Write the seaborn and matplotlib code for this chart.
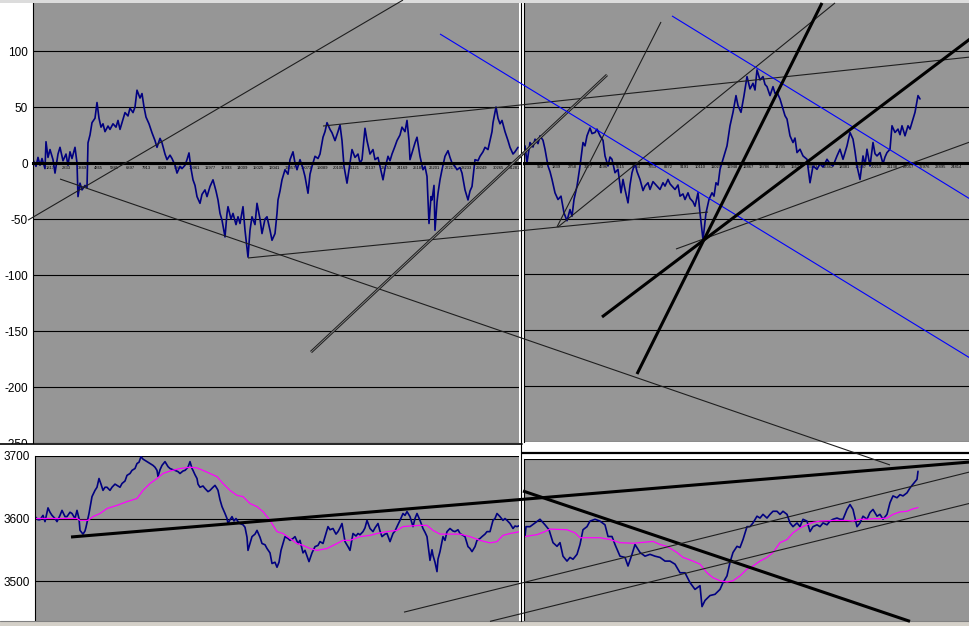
import matplotlib
matplotlib.use("Agg")
import matplotlib.pyplot as plt
from matplotlib.lines import Line2D
from matplotlib.patches import Rectangle
import numpy as np
import seaborn as sns

W, H = 970, 626
GRAY = "#969696"
NAVY = "#000080"
MAGENTA = "#ff00ff"

# ---- upper chart (oscillator), (session, value) ----
upper_left = [
    (0, 3), (3, -3), (5, 5), (7, -2), (9, 4), (12, -5), (13, 19), (15, 5), (17, 12), (20, 3),
    (22, -9), (25, 8), (27, 14), (30, 2), (33, 8), (35, -2), (37, 10), (39, 4), (42, 14), (44, 0),
    (45, -30), (47, -18), (49, -24), (52, -20), (54, -22), (55, 18), (57, 25), (59, 36), (62, 40),
    (64, 54), (66, 40), (68, 32), (70, 35), (72, 28), (75, 33), (77, 30), (80, 35), (83, 32),
    (85, 38), (87, 30), (89, 36), (92, 45), (95, 42), (97, 49), (100, 45), (102, 50), (104, 65),
    (107, 58), (109, 62), (111, 50), (113, 41), (116, 35), (119, 27), (122, 20), (124, 14),
    (127, 22), (129, 18), (132, 8), (134, 3), (137, 7), (139, 4), (142, -2), (144, -9), (147, -3),
    (149, -5), (152, -2), (154, 3), (156, 9), (158, -5), (160, -15), (162, -20), (164, -30),
    (167, -36), (169, -28), (172, -24), (174, -30), (177, -21), (180, -15), (183, -25), (185, -33),
    (187, -45), (189, -51), (192, -66), (194, -45), (195, -39), (198, -50), (200, -45), (203, -55),
    (205, -48), (207, -54), (210, -39), (212, -60), (215, -84), (217, -60), (219, -48), (222, -55),
    (224, -36), (227, -50), (229, -63), (232, -50), (234, -48), (237, -60), (239, -69), (242, -63),
    (244, -45), (245, -33), (247, -25), (249, -15), (252, -6), (255, -10), (257, 3), (260, 10),
    (262, 0), (264, -6), (267, 3), (270, -5), (272, -12), (275, -27), (277, -10), (279, -3),
    (282, 6), (285, 4), (287, 8), (290, 23), (292, 28), (294, 36), (297, 30), (299, 27), (302, 20),
    (305, 28), (307, 34), (309, 20), (311, -3), (314, -18), (317, 0), (319, 12), (322, 5), (325, 8),
    (327, 0), (329, 3), (332, 31), (334, 20), (337, 8), (340, 12), (342, 3), (345, 5), (347, -3),
    (350, -15), (352, -5), (355, 6), (357, 2), (359, 8), (362, 15), (364, 20), (367, 25), (369, 32),
    (372, 28), (374, 38), (376, 20), (377, 3), (380, 12), (382, 18), (384, 23), (387, 6), (390, -6),
    (392, -3), (394, -12), (396, -54), (398, -30), (399, -33), (401, -20), (402, -60), (404, -35),
    (405, -27), (407, -15), (409, -6), (412, 6), (415, 11), (417, 5), (419, 0), (422, -3), (424, -6),
    (427, -4), (429, -9), (432, -24), (435, -33), (437, -25), (439, -21), (441, -5), (442, 3),
    (445, 2), (447, 6), (450, 10), (452, 14), (455, 12), (457, 20), (459, 28), (460, 36), (463, 50),
    (465, 40), (467, 35), (469, 38), (472, 28), (475, 20), (477, 14), (480, 8), (482, 10), (485, 14),
]
upper_right = [
    (1, 15), (3, 0), (5, 12), (6, 18), (9, 14), (11, 21), (14, 17), (16, 24), (19, 20), (21, 12),
    (24, -3), (26, -8), (28, -15), (31, -27), (34, -33), (37, -30), (40, -45), (43, -52), (46, -42),
    (48, -48), (50, -33), (53, -21), (56, -3), (59, 18), (61, 15), (63, 24), (66, 31), (68, 26),
    (71, 27), (73, 30), (76, 24), (79, 20), (81, 6), (84, -3), (86, 5), (88, 3), (91, -9), (94, -6),
    (97, -27), (99, -15), (101, -24), (104, -36), (106, -20), (108, -9), (111, 0), (113, -8),
    (116, -15), (119, -25), (121, -21), (124, -18), (126, -24), (129, -17), (131, -19), (134, -22),
    (136, -24), (139, -18), (141, -21), (144, -15), (146, -19), (149, -22), (151, -24), (154, -20),
    (156, -30), (159, -28), (161, -33), (164, -27), (166, -32), (169, -35), (171, -39), (174, -27),
    (176, -45), (179, -69), (182, -45), (185, -33), (188, -27), (190, -30), (192, -18), (194, -20),
    (196, -6), (200, 6), (203, 15), (206, 33), (209, 45), (212, 60), (214, 51), (217, 45), (220, 60),
    (223, 77), (226, 66), (229, 71), (231, 65), (233, 83), (236, 74), (239, 77), (241, 70), (243, 68),
    (246, 60), (249, 68), (251, 62), (253, 63), (256, 57), (259, 48), (261, 42), (263, 39), (266, 24),
    (269, 18), (271, 22), (273, 9), (276, 12), (279, 6), (283, 3), (286, -18), (289, -3), (293, -6),
    (296, -1), (299, -4), (303, 3), (306, -1), (309, -3), (313, 6), (316, 12), (319, 3), (323, 15),
    (326, 27), (329, 21), (331, 10), (333, -3), (336, -15), (339, 6), (341, -2), (343, 12), (346, -3),
    (349, 18), (351, 8), (353, 6), (356, 9), (359, -1), (361, 5), (363, 9), (366, 12), (368, 33),
    (371, 27), (374, 30), (376, 25), (378, 33), (381, 24), (384, 33), (386, 30), (388, 36), (391, 45),
    (394, 60), (396, 57),
]

# ---- lower chart (price + moving average), (session, price) ----
lower_left = [
    (0, 3603), (3, 3598), (5, 3598), (8, 3605), (10, 3595), (13, 3617), (15, 3610), (17, 3605),
    (20, 3600), (22, 3595), (25, 3605), (27, 3613), (30, 3603), (32, 3603), (35, 3610), (37, 3608),
    (40, 3600), (42, 3613), (44, 3600), (45, 3581), (48, 3575), (50, 3580), (51, 3586), (54, 3608),
    (57, 3635), (60, 3645), (62, 3650), (64, 3664), (66, 3655), (68, 3645), (70, 3650), (72, 3650),
    (75, 3645), (77, 3650), (80, 3655), (82, 3653), (85, 3650), (87, 3656), (90, 3660), (92, 3669),
    (95, 3672), (97, 3677), (100, 3680), (102, 3688), (104, 3690), (106, 3699), (108, 3695),
    (110, 3693), (113, 3690), (115, 3688), (118, 3685), (120, 3682), (122, 3677), (123, 3667),
    (125, 3678), (127, 3685), (130, 3691), (133, 3683), (135, 3680), (138, 3678), (140, 3677),
    (143, 3675), (145, 3672), (148, 3676), (150, 3677), (153, 3682), (155, 3691), (157, 3680),
    (158, 3677), (160, 3670), (162, 3664), (163, 3655), (165, 3650), (168, 3652), (170, 3648),
    (173, 3643), (175, 3645), (178, 3650), (180, 3653), (182, 3648), (183, 3645), (185, 3630),
    (187, 3619), (190, 3608), (192, 3600), (193, 3592), (195, 3598), (197, 3603), (199, 3596),
    (201, 3600), (203, 3595), (205, 3592), (208, 3590), (210, 3586), (212, 3570), (213, 3549),
    (215, 3560), (217, 3571), (220, 3575), (222, 3581), (225, 3570), (227, 3560), (230, 3558),
    (232, 3552), (235, 3545), (237, 3528), (240, 3530), (242, 3522), (244, 3530), (246, 3549),
    (248, 3560), (250, 3571), (253, 3568), (255, 3565), (258, 3568), (260, 3571), (263, 3560),
    (265, 3565), (268, 3545), (270, 3549), (272, 3540), (274, 3531), (277, 3545), (280, 3555),
    (283, 3557), (285, 3563), (288, 3560), (290, 3571), (293, 3587), (295, 3582), (298, 3584),
    (301, 3575), (303, 3579), (305, 3585), (307, 3592), (310, 3563), (313, 3555), (315, 3549),
    (318, 3576), (321, 3572), (323, 3576), (325, 3574), (328, 3579), (330, 3585), (332, 3597),
    (335, 3584), (338, 3579), (340, 3585), (343, 3592), (345, 3580), (347, 3571), (350, 3575),
    (352, 3576), (355, 3563), (358, 3576), (360, 3580), (362, 3587), (365, 3597), (368, 3608),
    (370, 3605), (372, 3611), (375, 3603), (378, 3587), (380, 3600), (382, 3608), (385, 3597),
    (388, 3584), (390, 3578), (392, 3571), (395, 3533), (397, 3550), (398, 3541), (400, 3530),
    (402, 3515), (403, 3535), (405, 3547), (408, 3571), (410, 3565), (412, 3579), (415, 3584),
    (418, 3580), (420, 3579), (423, 3582), (425, 3576), (428, 3573), (430, 3571), (433, 3555),
    (435, 3552), (437, 3547), (440, 3555), (442, 3565), (445, 3568), (447, 3571), (450, 3575),
    (452, 3579), (455, 3579), (458, 3597), (460, 3600), (462, 3608), (465, 3603), (468, 3597),
    (470, 3600), (472, 3597), (475, 3592), (478, 3584), (480, 3588), (482, 3587), (485, 3589),
]
ma_left_session = [0, 15, 30, 42, 45, 53, 58, 65, 72, 82, 92, 102, 108, 115, 122, 128, 135, 145,
                   155, 162, 168, 175, 182, 188, 195, 202, 208, 215, 222, 228, 235, 242, 248, 255,
                   262, 268, 275, 282, 292, 302, 308, 315, 325, 335, 342, 352, 362, 368, 375, 385,
                   392, 398, 405, 415, 425, 435, 445, 455, 462, 468, 475, 485]
ma_left_value = [3600, 3600, 3600, 3600, 3597, 3597, 3603, 3608, 3616, 3621, 3627, 3632, 3645,
                 3656, 3664, 3672, 3676, 3680, 3682, 3681, 3677, 3672, 3667, 3656, 3645, 3637,
                 3635, 3624, 3619, 3611, 3597, 3579, 3576, 3568, 3560, 3557, 3552, 3549, 3552,
                 3560, 3565, 3565, 3571, 3573, 3576, 3579, 3581, 3587, 3588, 3589, 3589, 3581,
                 3575, 3575, 3575, 3571, 3565, 3561, 3563, 3573, 3576, 3579]
lower_right = [
    (1, 3574), (2, 3590), (6, 3590), (11, 3596), (16, 3602), (21, 3593), (25, 3585), (29, 3564),
    (33, 3558), (36, 3564), (39, 3542), (43, 3534), (46, 3540), (49, 3537), (53, 3545), (56, 3561),
    (59, 3585), (63, 3590), (66, 3599), (71, 3602), (76, 3599), (81, 3593), (84, 3574), (88, 3574),
    (91, 3561), (96, 3542), (101, 3540), (104, 3526), (108, 3545), (111, 3561), (116, 3548),
    (121, 3542), (126, 3545), (131, 3542), (136, 3540), (141, 3534), (146, 3534), (151, 3529),
    (156, 3515), (161, 3515), (166, 3499), (171, 3488), (176, 3494), (178, 3460), (181, 3470),
    (186, 3478), (191, 3480), (196, 3488), (199, 3499), (203, 3510), (206, 3532), (209, 3548),
    (213, 3558), (216, 3556), (219, 3569), (223, 3590), (226, 3590), (229, 3596), (233, 3607),
    (236, 3604), (239, 3610), (243, 3604), (246, 3610), (249, 3615), (253, 3615), (256, 3610),
    (259, 3615), (263, 3610), (266, 3596), (269, 3590), (273, 3596), (276, 3590), (279, 3602),
    (283, 3599), (286, 3582), (289, 3590), (293, 3593), (296, 3590), (299, 3596), (303, 3593),
    (306, 3599), (309, 3602), (313, 3604), (316, 3602), (319, 3602), (323, 3618), (326, 3626),
    (329, 3618), (333, 3590), (336, 3596), (339, 3607), (343, 3602), (346, 3613), (349, 3618),
    (353, 3607), (356, 3610), (359, 3602), (363, 3610), (366, 3629), (369, 3640), (373, 3637),
    (376, 3642), (379, 3640), (383, 3645), (386, 3653), (389, 3659), (393, 3667), (394, 3680),
]
ma_right_session = [1, 13, 21, 26, 43, 51, 56, 63, 76, 86, 96, 109, 116, 129, 136, 143, 153, 159,
                    169, 176, 183, 189, 196, 203, 209, 216, 223, 229, 236, 243, 249, 256, 263, 269,
                    276, 283, 289, 296, 309, 323, 329, 336, 343, 349, 356, 363, 369, 376, 383, 389, 394]
ma_right_value = [3574, 3577, 3582, 3586, 3585, 3580, 3572, 3572, 3572, 3569, 3564, 3563, 3564,
                  3566, 3561, 3558, 3548, 3540, 3534, 3529, 3515, 3507, 3502, 3500, 3502, 3510,
                  3521, 3526, 3534, 3540, 3548, 3564, 3569, 3580, 3588, 3593, 3597, 3599, 3600,
                  3600, 3599, 3602, 3602, 3603, 3603, 3604, 3610, 3614, 3615, 3619, 3621]

# ---- hand-drawn trend lines (s0, v0, s1, v1) ----
upper_thin_lines = [(-5, -51, 370, 145.5), (27, -14.3, 857, -269.6), (215, -84.8, 675, -43.8),
                    (290, 33.0, 937, 94.6), (524, -57.1, 628, 125.9), (525, -57.1, 802, 142.9),
                    (643, -76.8, 937, 18.8)]
upper_double_lines = [(278, -168.8, 574, 78.6)]
upper_blue_lines = [(407, 115.2, 937, -174.1), (639, 131.3, 937, -32.1)]
upper_thick_lines = [(604, -188.4, 789, 142.9), (569, -137.5, 937, 110.7)]
lower_left_thick_lines = [(36, 3570.4, 935, 3690.4)]
lower_right_thick_lines = [(-1, 3648, 386, 3436)]
lower_right_thin_lines = [(-120, 3451, 446, 3679), (-34, 3436, 446, 3628)]

upper_ticks = [100, 50, 0, -50, -100, -150, -200, -250]
lower_ticks = [3700, 3600, 3500]
left_xlabels = [str(v) for v in range(1817, 1817 + 30 * 1016, 1016)]
right_xlabels = [str(v) for v in range(1, 1 + 28 * 919, 919)]

sns.set_style("white")
plt.rcParams["font.family"] = ["Liberation Sans", "DejaVu Sans"]
plt.rcParams["axes.unicode_minus"] = False

fig = plt.figure(figsize=(W / 100, H / 100), dpi=100)
fig.patch.set_facecolor("white")


def px_rect(x0, y0, x1, y1):
    return [x0 / W, 1 - y1 / H, (x1 - x0) / W, (y1 - y0) / H]


def make_pane(rect, xlim, ylim, yticks, show_labels):
    ax = fig.add_axes(px_rect(*rect))
    ax.set_facecolor(GRAY)
    ax.set_xlim(*xlim)
    ax.set_ylim(*ylim)
    for side in ["top", "right", "bottom"]:
        ax.spines[side].set_visible(False)
    ax.spines["left"].set_color("black")
    ax.spines["left"].set_linewidth(0.8)
    ax.set_yticks(yticks)
    ax.set_yticklabels([str(t) for t in yticks] if show_labels else [])
    ax.tick_params(axis="y", direction="out", length=2.2 if show_labels else 0, width=0.8,
                   pad=1.4, labelsize=8.5, colors="black")
    ax.grid(axis="y", color="black", lw=0.8)
    ax.grid(axis="x", visible=False)
    ax.set_axisbelow(True)
    ax.set_xticks([])
    return ax


def zero_axis(ax, labels, first):
    sp = ax.spines["bottom"]
    sp.set_visible(True)
    sp.set_position(("data", 0))
    sp.set_linewidth(2.2)
    sp.set_color("black")
    ax.set_xticks(np.arange(len(labels)) * 16 + first)
    ax.set_xticklabels(labels)
    ax.tick_params(axis="x", direction="out", length=1.2, width=0.5, pad=0.8,
                   labelsize=3, colors="black")


ax_tl = make_pane((33, 3, 519.5, 443), (0, 486.5), (-250, 142.86), upper_ticks, True)
ax_tr = make_pane((524, 3, 970, 442), (0, 446), (-249.1, 142.86), upper_ticks, False)
ax_bl = make_pane((35, 456, 519.5, 621), (0, 484.5), (3436, 3700), lower_ticks, True)
ax_br = make_pane((524, 459, 970, 621), (0, 446), (3436.6, 3700), lower_ticks, False)
zero_axis(ax_tl, left_xlabels, 17)
zero_axis(ax_tr, right_xlabels, 0)

for ax, pts in [(ax_tl, upper_left), (ax_tr, upper_right), (ax_bl, lower_left), (ax_br, lower_right)]:
    s, v = zip(*pts)
    sns.lineplot(x=list(s), y=list(v), ax=ax, color=NAVY, lw=1.2, estimator=None, sort=False)
sns.lineplot(x=ma_left_session, y=ma_left_value, ax=ax_bl, color=MAGENTA, lw=0.9,
             estimator=None, sort=False)
sns.lineplot(x=ma_right_session, y=ma_right_value, ax=ax_br, color=MAGENTA, lw=0.9,
             estimator=None, sort=False)
for ax in [ax_tl, ax_tr, ax_bl, ax_br]:
    ax.set_xlabel("")
    ax.set_ylabel("")

# pane splitters and window chrome
fig.add_artist(Rectangle((0, 1 - 449.5 / H), 32 / W, 5.5 / H, transform=fig.transFigure,
                         facecolor="white", edgecolor="none", zorder=3))
fig.add_artist(Rectangle((0, 1 - 2.5 / H), 1, 2.5 / H, transform=fig.transFigure,
                         facecolor="#dcdcdc", edgecolor="none", zorder=3))
fig.add_artist(Rectangle((0, 0), 1, 5 / H, transform=fig.transFigure,
                         facecolor="#d4d0c8", edgecolor="none", zorder=3))
fig.add_artist(Line2D([0, 1], [5 / H, 5 / H], transform=fig.transFigure,
                      color="#808080", lw=0.8, zorder=3))
fig.add_artist(Line2D([0, 522.5 / W], [1 - 443.8 / H] * 2, transform=fig.transFigure,
                      color="black", lw=1.2, zorder=3))
fig.add_artist(Line2D([522.5 / W, 1], [1 - 452.7 / H] * 2, transform=fig.transFigure,
                      color="black", lw=1.6, zorder=3))
fig.add_artist(Line2D([521.5 / W] * 2, [5 / H, 1 - 2.5 / H], transform=fig.transFigure,
                      color="black", lw=0.8, zorder=3))


def overlay(ax):
    ov = fig.add_axes(list(ax.get_position().bounds), zorder=5)
    ov.set_xlim(ax.get_xlim())
    ov.set_ylim(ax.get_ylim())
    ov.axis("off")
    ov.patch.set_alpha(0)
    return ov


ov_top = overlay(ax_tl)
ov_bl = overlay(ax_bl)
ov_br = overlay(ax_br)


def draw(ov, segs, **kw):
    for s0, v0, s1, v1 in segs:
        ov.plot([s0, s1], [v0, v1], clip_on=False, solid_capstyle="butt", **kw)


draw(ov_top, upper_thin_lines, color="#1e1e1e", lw=0.8)
draw(ov_top, upper_double_lines, color="#1e1e1e", lw=2.0)
draw(ov_top, upper_double_lines, color="#8a8a8a", lw=0.6)
draw(ov_top, upper_blue_lines, color="#0000ff", lw=0.8)
draw(ov_top, upper_thick_lines, color="black", lw=2.2)
draw(ov_bl, lower_left_thick_lines, color="black", lw=2.2)
draw(ov_br, lower_right_thick_lines, color="black", lw=2.2)
draw(ov_br, lower_right_thin_lines, color="#1e1e1e", lw=0.8)

fig.savefig("out.png", dpi=100, facecolor="white")
